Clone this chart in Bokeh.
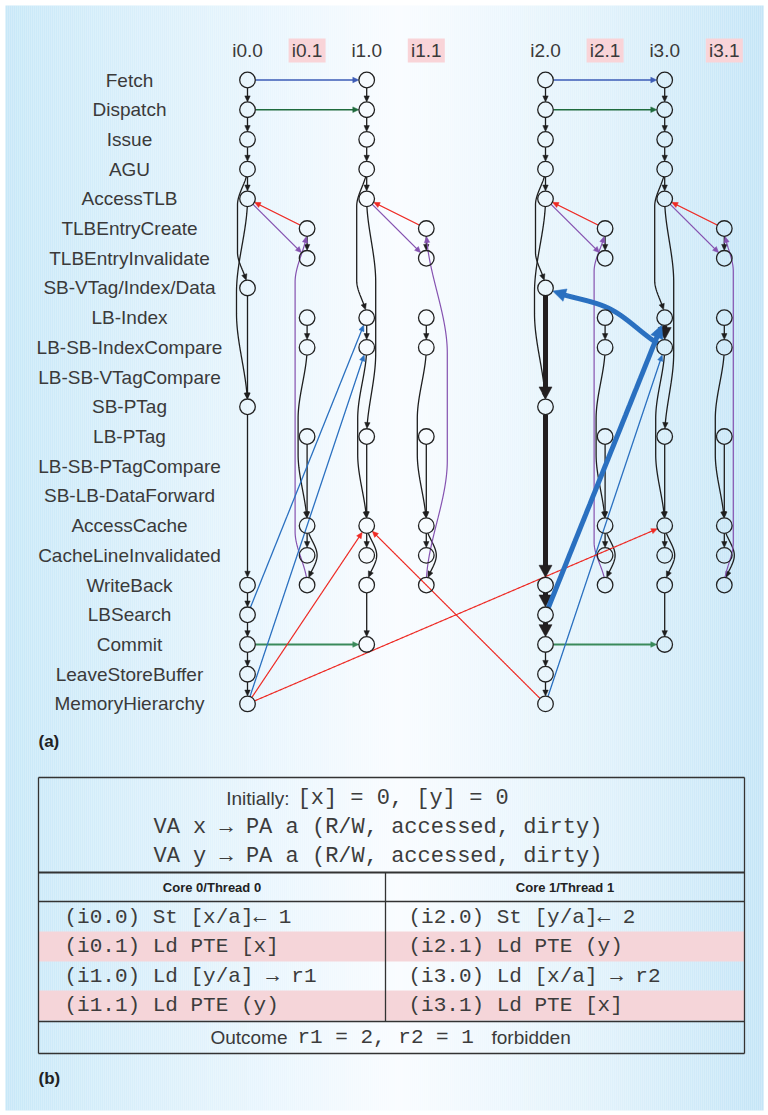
import numpy as np
from bokeh.plotting import figure
from bokeh.models import Range1d
from bokeh.embed import file_html
from bokeh.resources import INLINE
from bokeh.core.properties import value

# ---------------- data ----------------
STAGES = ["Fetch", "Dispatch", "Issue", "AGU", "AccessTLB", "TLBEntryCreate",
          "TLBEntryInvalidate", "SB-VTag/Index/Data", "LB-Index", "LB-SB-IndexCompare",
          "LB-SB-VTagCompare", "SB-PTag", "LB-PTag", "LB-SB-PTagCompare",
          "SB-LB-DataForward", "AccessCache", "CacheLineInvalidated", "WriteBack",
          "LBSearch", "Commit", "LeaveStoreBuffer", "MemoryHierarchy"]

INSTRS = ["i0.0", "i0.1", "i1.0", "i1.1", "i2.0", "i2.1", "i3.0", "i3.1"]
INSTR_KIND = ["store", "pte", "load", "pte", "store", "pte", "load", "pte"]

STORE_NODES = ["Fetch", "Dispatch", "Issue", "AGU", "AccessTLB", "SB-VTag/Index/Data",
               "SB-PTag", "WriteBack", "LBSearch", "Commit", "LeaveStoreBuffer",
               "MemoryHierarchy"]
LOAD_NODES = ["Fetch", "Dispatch", "Issue", "AGU", "AccessTLB", "LB-Index",
              "LB-SB-IndexCompare", "LB-PTag", "AccessCache", "CacheLineInvalidated",
              "WriteBack", "Commit"]
PTE_NODES = ["TLBEntryCreate", "TLBEntryInvalidate", "LB-Index", "LB-SB-IndexCompare",
             "LB-PTag", "AccessCache", "CacheLineInvalidated", "WriteBack"]

STORE_EDGES = [("Fetch", "Dispatch"), ("Dispatch", "Issue"), ("Issue", "AGU"),
               ("AGU", "AccessTLB"), ("AGU", "SB-VTag/Index/Data"), ("AccessTLB", "SB-PTag"),
               ("SB-VTag/Index/Data", "SB-PTag"), ("SB-PTag", "WriteBack"),
               ("WriteBack", "LBSearch"), ("LBSearch", "Commit"),
               ("Commit", "LeaveStoreBuffer"), ("LeaveStoreBuffer", "MemoryHierarchy")]
LOAD_EDGES = [("Fetch", "Dispatch"), ("Dispatch", "Issue"), ("Issue", "AGU"),
              ("AGU", "AccessTLB"), ("AGU", "LB-Index"), ("AccessTLB", "LB-PTag"),
              ("LB-Index", "LB-SB-IndexCompare"), ("LB-SB-IndexCompare", "AccessCache"),
              ("LB-PTag", "AccessCache"), ("AccessCache", "CacheLineInvalidated"),
              ("AccessCache", "WriteBack"), ("WriteBack", "Commit")]
PTE_EDGES = [("TLBEntryCreate", "TLBEntryInvalidate"), ("LB-Index", "LB-SB-IndexCompare"),
             ("LB-SB-IndexCompare", "AccessCache"), ("LB-PTag", "AccessCache"),
             ("AccessCache", "CacheLineInvalidated"), ("AccessCache", "WriteBack")]
PTW_EDGE = ("WriteBack", "TLBEntryCreate")

TLB_PAIRS = [("i0.0", "i0.1"), ("i1.0", "i1.1"), ("i2.0", "i2.1"), ("i3.0", "i3.1")]

CROSS_EDGES = [
    ("i0.0", "Fetch", "i1.0", "Fetch", "fetch_po"),
    ("i2.0", "Fetch", "i3.0", "Fetch", "fetch_po"),
    ("i0.0", "Dispatch", "i1.0", "Dispatch", "dispatch_po"),
    ("i2.0", "Dispatch", "i3.0", "Dispatch", "dispatch_po"),
    ("i0.0", "Commit", "i1.0", "Commit", "commit_po"),
    ("i2.0", "Commit", "i3.0", "Commit", "commit_po"),
    ("i0.0", "LBSearch", "i1.0", "LB-Index", "lb"),
    ("i0.0", "MemoryHierarchy", "i1.0", "LB-SB-IndexCompare", "lb"),
    ("i2.0", "MemoryHierarchy", "i3.0", "LB-SB-IndexCompare", "lb"),
    ("i2.0", "LBSearch", "i3.0", "LB-Index", "lb_cycle"),
    ("i3.0", "LB-SB-IndexCompare", "i2.0", "SB-VTag/Index/Data", "lb_cycle"),
    ("i0.0", "MemoryHierarchy", "i1.0", "AccessCache", "coherence"),
    ("i0.0", "MemoryHierarchy", "i3.0", "AccessCache", "coherence"),
    ("i2.0", "MemoryHierarchy", "i1.0", "AccessCache", "coherence"),
]

CYCLE_INTRA = [("i2.0", "SB-VTag/Index/Data", "SB-PTag"), ("i2.0", "SB-PTag", "WriteBack"),
               ("i2.0", "WriteBack", "LBSearch"), ("i2.0", "LBSearch", "Commit"),
               ("i3.0", "LB-Index", "LB-SB-IndexCompare")]

INIT_SANS = "Initially:"
INIT_MONO = "[x] = 0, [y] = 0"
VA_LINES = ["VA x \u2192 PA a (R/W, accessed, dirty)", "VA y \u2192 PA a (R/W, accessed, dirty)"]
THREAD_HEADERS = ["Core 0/Thread 0", "Core 1/Thread 1"]
THREAD0 = ["(i0.0) St [x/a]\u2190 1", "(i0.1) Ld PTE [x]", "(i1.0) Ld [y/a] \u2192 r1", "(i1.1) Ld PTE (y)"]
THREAD1 = ["(i2.0) St [y/a]\u2190 2", "(i2.1) Ld PTE (y)", "(i3.0) Ld [x/a] \u2192 r2", "(i3.1) Ld PTE [x]"]
ROW_IS_PTE = [False, True, False, True]
OUTCOME = ["Outcome", "r1 = 2, r2 = 1", "forbidden"]

# ---------------- style ----------------
STYLE = {
    "po": dict(color="#1e1e1e", width=1.3, head=(6.0, 2.7)),
    "po_cycle": dict(color="#231f20", width=5.0, head=(12.0, 6.5)),
    "tlb_fill": dict(color="#ee2a24", width=1.2, head=(6.0, 2.7)),
    "tlb_inval": dict(color="#8552b0", width=1.2, head=(6.0, 2.7)),
    "ptw": dict(color="#8552b0", width=1.2, head=(6.0, 2.7)),
    "fetch_po": dict(color="#3d5cb6", width=1.6, head=(6.0, 2.8)),
    "dispatch_po": dict(color="#1f6b3d", width=1.6, head=(6.0, 2.8)),
    "commit_po": dict(color="#3a8a5b", width=2.0, head=(6.0, 2.8)),
    "lb": dict(color="#2a70c0", width=1.3, head=(6.0, 2.7)),
    "lb_cycle": dict(color="#2a70c0", width=5.0, head=(13.0, 6.5)),
    "coherence": dict(color="#ee2a24", width=1.2, head=(6.0, 2.7)),
}
# curvature: (sagitta px, ramp fraction); sign + = right of travel direction (screen)
BEND = {
    ("AGU", "SB-VTag/Index/Data"): (-10, 0.3),
    ("AccessTLB", "SB-PTag"): (-11, 0.45),
    ("AGU", "LB-Index"): (-10, 0.25),
    ("AccessTLB", "LB-PTag"): (9, 0.35),
    ("LB-SB-IndexCompare", "AccessCache"): (-9, 0.4),
    ("AccessCache", "WriteBack"): (10, 0.5),
}
BEND_BY_INSTR = {
    ("i0.1", "WriteBack", "TLBEntryCreate"): (12, 0.15),
    ("i1.1", "WriteBack", "TLBEntryCreate"): (-21, 0.35),
    ("i2.1", "WriteBack", "TLBEntryCreate"): (11, 0.12),
    ("i3.1", "WriteBack", "TLBEntryCreate"): (-9, 0.12),
    ("i3.0", "LB-SB-IndexCompare", "SB-VTag/Index/Data"): (-10, 0.5),
}

# ---------------- layout ----------------
COL_X = {ins: 247 + 59.6 * (k % 4) + 298 * (k // 4) for k, ins in enumerate(INSTRS)}
ROW_Y = {st: 79.5 + 29.71 * k for k, st in enumerate(STAGES)}
KIND_NODES = {"store": STORE_NODES, "load": LOAD_NODES, "pte": PTE_NODES}
KIND_EDGES = {"store": STORE_EDGES, "load": LOAD_EDGES, "pte": PTE_EDGES}
R = 7.8


def smooth(u):
    u = np.clip(u, 0, 1)
    return u * u * (3 - 2 * u)


def edge_geom(p0, p1, s, e, head_len, head_w):
    t = np.linspace(0, 1, 800)
    dx, dy = p1[0] - p0[0], p1[1] - p0[1]
    L = np.hypot(dx, dy)
    nx, ny = dy / L, -dx / L
    f = s * smooth(t / e) * smooth((1 - t) / e)
    x = p0[0] + dx * t + nx * f
    y = p0[1] + dy * t + ny * f
    d0 = np.hypot(x - p0[0], y - p0[1])
    d1 = np.hypot(x - p1[0], y - p1[1])
    i0 = int(np.argmax(d0 >= R))
    i1 = len(t) - 1 - int(np.argmax((d1 >= R)[::-1]))
    x, y = x[i0:i1 + 1], y[i0:i1 + 1]
    seg = np.hypot(np.diff(x), np.diff(y))
    cum = np.concatenate([[0], np.cumsum(seg)])
    back = cum[-1] - cum
    j = int(np.where(back >= head_len)[0][-1])
    tip = np.array([x[-1], y[-1]])
    ref = np.array([x[j], y[j]])
    u = (tip - ref) / np.hypot(*(tip - ref))
    base = tip - u * head_len
    perp = np.array([-u[1], u[0]])
    tri_x = [tip[0], base[0] + perp[0] * head_w, base[0] - perp[0] * head_w]
    tri_y = [tip[1], base[1] + perp[1] * head_w, base[1] - perp[1] * head_w]
    lx = list(x[:j + 1]) + [base[0] + u[0] * 1.5]
    ly = list(y[:j + 1]) + [base[1] + u[1] * 1.5]
    return lx, ly, tri_x, tri_y


# assemble edge list
edges = []  # (p0, p1, rel, bend)
for ins, kind in zip(INSTRS, INSTR_KIND):
    for s_, d_ in KIND_EDGES[kind]:
        rel = "po_cycle" if (ins, s_, d_) in CYCLE_INTRA else "po"
        bend = BEND_BY_INSTR.get((ins, s_, d_), BEND.get((s_, d_), (0, 0.5)))
        edges.append(((COL_X[ins], ROW_Y[s_]), (COL_X[ins], ROW_Y[d_]), rel, bend))
    if kind == "pte":
        s_, d_ = PTW_EDGE
        bend = BEND_BY_INSTR.get((ins, s_, d_), (0, 0.5))
        edges.append(((COL_X[ins], ROW_Y[s_]), (COL_X[ins], ROW_Y[d_]), "ptw", bend))
for main, pte in TLB_PAIRS:
    edges.append(((COL_X[pte], ROW_Y["TLBEntryCreate"]), (COL_X[main], ROW_Y["AccessTLB"]), "tlb_fill", (0, 0.5)))
    edges.append(((COL_X[main], ROW_Y["AccessTLB"]), (COL_X[pte], ROW_Y["TLBEntryInvalidate"]), "tlb_inval", (0, 0.5)))
for si, ss, di, ds, rel in CROSS_EDGES:
    bend = BEND_BY_INSTR.get((si, ss, ds), (0, 0.5))
    edges.append(((COL_X[si], ROW_Y[ss]), (COL_X[di], ROW_Y[ds]), rel, bend))

# ---------------- figure ----------------
p = figure(width=768, height=1115, x_range=Range1d(0, 768), y_range=Range1d(1115, 0),
           output_backend="svg", toolbar_location=None, min_border=0,
           x_axis_type=None, y_axis_type=None, outline_line_color=None)
p.grid.visible = False
p.border_fill_color = "white"
p.background_fill_color = "white"

# background gradient
gx = np.arange(5, 763, 2.0)
frac = (gx + 1 - 5) / 758.0
stops_f = [0, 0.28, 0.52, 0.78, 1]
stops_c = np.array([[200, 232, 248], [227, 243, 252], [249, 252, 255], [225, 242, 251], [196, 229, 247]])
bg_cols = ["#%02x%02x%02x" % tuple(int(round(np.interp(f, stops_f, stops_c[:, k]))) for k in range(3)) for f in frac]
p.quad(left=gx, right=gx + 2.1, top=5, bottom=1110, fill_color=bg_cols, line_color=None)

# pink header boxes
pte_x = [COL_X[i] for i, k in zip(INSTRS, INSTR_KIND) if k == "pte"]
p.rect(x=pte_x, y=50, width=37, height=24, fill_color="#f9d4d8", line_color=None)

# edges grouped by relation
order = ["po", "ptw", "tlb_inval", "tlb_fill", "fetch_po", "dispatch_po", "commit_po",
         "lb", "coherence", "po_cycle", "lb_cycle"]
for rel in order:
    st = STYLE[rel]
    xs, ys, hx, hy = [], [], [], []
    for p0, p1, r_, (s, e) in edges:
        if r_ != rel:
            continue
        lx, ly, tx, ty = edge_geom(p0, p1, s, e, *st["head"])
        xs.append(lx); ys.append(ly); hx.append(tx); hy.append(ty)
    if xs:
        p.multi_line(xs, ys, line_color=st["color"], line_width=st["width"])
        p.patches(hx, hy, fill_color=st["color"], line_color=st["color"], line_width=0.5)

# nodes
nx_, ny_ = [], []
for ins, kind in zip(INSTRS, INSTR_KIND):
    for stg in KIND_NODES[kind]:
        nx_.append(COL_X[ins]); ny_.append(ROW_Y[stg])
p.scatter(nx_, ny_, marker="circle", size=15.6, fill_color=None, line_color="#222222", line_width=1.3)

SANS = value("Liberation Sans")
MONO = value("Liberation Mono")

# column headers and row labels
p.text(x=[COL_X[i] for i in INSTRS], y=[50] * len(INSTRS), text=INSTRS, text_font=SANS,
       text_font_size="19px", text_color="#3a3a3a", text_align="center", text_baseline="middle")
p.text(x=[129] * len(STAGES), y=[ROW_Y[s] for s in STAGES], text=STAGES, text_font=SANS,
       text_font_size="19px", text_color="#3a3a3a", text_align="center", text_baseline="middle")

# panel labels
p.text(x=[38, 38], y=[741, 1078], text=["(a)", "(b)"], text_font=SANS, text_font_style="bold",
       text_font_size="17px", text_color="#222222", text_align="left", text_baseline="middle")

# ---------------- table ----------------
TL, TR, TT, TB = 38, 744, 777, 1053
XD = 385
row_y = [916.5, 946, 975.5, 1005]
pink_top = [931, 990]
pink_bot = [961, 1020]
p.quad(left=TL, right=TR, top=pink_top, bottom=pink_bot, fill_color="#f5d5d9", line_color=None)
p.segment(x0=[TL, TL, TL, TL, TR, XD, TL], y0=[TT, TB, 901, 1021, TT, 872, TT],
          x1=[TR, TR, TR, TR, TR, XD, TL], y1=[TT, TB, 901, 1021, TB, 1021, TB],
          line_color="#333333", line_width=1.3)
p.segment(x0=[TL], y0=[872], x1=[TR], y1=[872], line_color="#333333", line_width=2.2)

MONO_COLOR = "#3c3c3c"
p.text(x=[289], y=[798], text=[INIT_SANS], text_font=SANS, text_font_size="19px",
       text_color="#3a3a3a", text_align="right", text_baseline="middle")
p.text(x=[297], y=[798], text=[INIT_MONO], text_font=MONO, text_font_size="22px",
       text_color=MONO_COLOR, text_align="left", text_baseline="middle")
p.text(x=[153, 153], y=[827, 856], text=VA_LINES, text_font=MONO, text_font_size="22px",
       text_color=MONO_COLOR, text_align="left", text_baseline="middle")
p.text(x=[(TL + XD) / 2, (XD + TR) / 2], y=[886.5, 886.5], text=THREAD_HEADERS, text_font=SANS,
       text_font_style="bold", text_font_size="13px", text_color="#222222",
       text_align="center", text_baseline="middle")
p.text(x=[64] * 4, y=row_y, text=THREAD0, text_font=MONO, text_font_size="21px",
       text_color=MONO_COLOR, text_align="left", text_baseline="middle")
p.text(x=[408] * 4, y=row_y, text=THREAD1, text_font=MONO, text_font_size="21px",
       text_color=MONO_COLOR, text_align="left", text_baseline="middle")
p.text(x=[287], y=[1037], text=[OUTCOME[0]], text_font=SANS, text_font_size="19px",
       text_color="#3a3a3a", text_align="right", text_baseline="middle")
p.text(x=[297], y=[1037], text=[OUTCOME[1]], text_font=MONO, text_font_size="21px",
       text_color=MONO_COLOR, text_align="left", text_baseline="middle")
p.text(x=[491], y=[1037], text=[OUTCOME[2]], text_font=SANS, text_font_size="19px",
       text_color="#3a3a3a", text_align="left", text_baseline="middle")

open("out.html", "w").write(file_html(p, INLINE))
